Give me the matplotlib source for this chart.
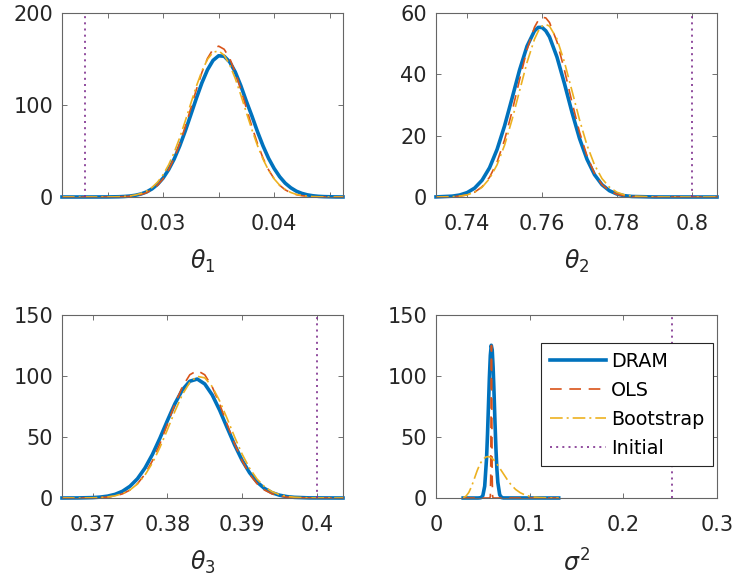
import matplotlib
matplotlib.use("Agg")
import matplotlib.pyplot as plt

# --- densities (x grid + DRAM / OLS / Bootstrap) ---
T1_X = [0.0209, 0.0230, 0.0250, 0.0260, 0.0265, 0.0270, 0.0275, 0.0280, 0.0285, 0.0290,
        0.0295, 0.0300, 0.0305, 0.0310, 0.0315, 0.0320, 0.0325, 0.0330, 0.0335, 0.0340,
        0.0345, 0.0350, 0.0355, 0.0360, 0.0365, 0.0370, 0.0375, 0.0380, 0.0385, 0.0390,
        0.0395, 0.0400, 0.0405, 0.0410, 0.0415, 0.0420, 0.0425, 0.0430, 0.0435, 0.0440,
        0.0445, 0.0455, 0.0462]
T1_DRAM = [0, 0, 0.07, 0.28, 0.55, 1.03, 1.85, 3.23, 5.42, 8.78,
           13.7, 20.5, 29.7, 41.3, 55.5, 71.8, 89.5, 107.4, 124.2, 138.3,
           148.5, 153.5, 153.0, 146.8, 135.8, 121.0, 104.0, 88.0, 71.0, 55.5,
           42.0, 31.0, 22.0, 15.0, 10.0, 6.3, 3.9, 2.3, 1.3, 0.7,
           0.4, 0.1, 0.05]
T1_OLS = [0, 0, 0.03, 0.17, 0.36, 0.73, 1.40, 2.59, 4.58, 7.79,
          12.7, 19.8, 29.5, 42.3, 58.1, 76.5, 96.6, 116.9, 135.5, 150.7,
          160.6, 164.0, 160.6, 150.7, 135.5, 116.9, 96.6, 76.5, 58.1, 42.3,
          29.5, 19.8, 12.7, 7.79, 4.58, 2.59, 1.40, 0.73, 0.36, 0.17,
          0.08, 0.01, 0]
T1_BOOT = [0, 0, 0.07, 0.31, 0.61, 1.17, 2.14, 3.75, 6.35, 10.3,
           16.1, 24.2, 34.9, 48.4, 64.5, 82.7, 101.8, 120.5, 137.0, 149.7,
           157.3, 158.8, 154.1, 143.7, 128.8, 110.9, 91.8, 73.1, 55.9, 41.1,
           29.0, 19.7, 12.8, 8.1, 4.9, 2.8, 1.56, 0.84, 0.43, 0.21,
           0.10, 0.02, 0]

T2_X = [0.7317, 0.736, 0.738, 0.740, 0.742, 0.744, 0.746, 0.748, 0.750, 0.752,
        0.754, 0.756, 0.758, 0.759, 0.760, 0.761, 0.762, 0.764, 0.766, 0.768,
        0.770, 0.772, 0.774, 0.776, 0.778, 0.780, 0.782, 0.784, 0.790, 0.800,
        0.8067]
T2_DRAM = [0.03, 0.27, 0.64, 1.42, 2.89, 5.46, 9.55, 15.5, 23.2, 32.2,
           41.4, 49.2, 54.2, 55.3, 55.3, 54.2, 52.2, 45.6, 36.9, 27.6,
           19.1, 12.3, 7.29, 4.01, 2.04, 0.96, 0.42, 0.17, 0.01, 0,
           0]
T2_OLS = [0, 0.10, 0.27, 0.68, 1.57, 3.32, 6.43, 11.4, 18.6, 27.9,
          38.2, 48.1, 55.4, 57.6, 58.6, 58.4, 56.9, 50.6, 41.3, 30.9,
          21.2, 13.4, 7.71, 4.08, 1.98, 0.88, 0.36, 0.14, 0, 0,
          0]
T2_BOOT = [0.01, 0.11, 0.29, 0.70, 1.55, 3.18, 6.01, 10.5, 16.9, 25.2,
           34.6, 43.9, 51.5, 54.1, 55.7, 56.3, 55.7, 51.5, 43.9, 34.6,
           25.2, 16.9, 10.5, 6.01, 3.18, 1.55, 0.70, 0.29, 0.01, 0,
           0]

T3_X = [0.3659, 0.368, 0.370, 0.371, 0.372, 0.373, 0.374, 0.375, 0.376, 0.377,
        0.378, 0.379, 0.380, 0.381, 0.382, 0.383, 0.384, 0.385, 0.386, 0.387,
        0.388, 0.389, 0.390, 0.391, 0.392, 0.393, 0.394, 0.395, 0.396, 0.397,
        0.399, 0.4035]
T3_DRAM = [0, 0.06, 0.33, 0.73, 1.52, 2.99, 5.53, 9.64, 15.8, 24.5,
           35.7, 49.0, 63.4, 77.2, 88.6, 95.7, 97.5, 93.5, 84.5, 71.9,
           57.6, 43.5, 30.9, 20.7, 13.1, 7.78, 4.35, 2.30, 1.14, 0.53,
           0.10, 0]
T3_OLS = [0, 0.02, 0.13, 0.32, 0.75, 1.65, 3.40, 6.51, 11.7, 19.5,
          30.5, 44.4, 60.4, 76.8, 91.1, 101.0, 104.5, 101.0, 91.1, 76.8,
          60.4, 44.4, 30.5, 19.5, 11.7, 6.51, 3.40, 1.65, 0.75, 0.32,
          0.05, 0]
T3_BOOT = [0, 0.02, 0.16, 0.39, 0.86, 1.81, 3.57, 6.61, 11.5, 18.8,
           28.7, 41.4, 55.9, 71.0, 84.7, 94.8, 99.7, 98.5, 91.3, 79.5,
           65.1, 50.0, 36.0, 24.4, 15.5, 9.29, 5.21, 2.74, 1.36, 0.63,
           0.11, 0]

S2_X = [0.029, 0.045, 0.048, 0.050, 0.052, 0.054, 0.055, 0.056, 0.057, 0.058,
        0.059, 0.060, 0.061, 0.062, 0.063, 0.064, 0.065, 0.066, 0.068, 0.070,
        0.072, 0.131]
S2_DRAM = [0, 0, 0.25, 1.9, 9.7, 32.9, 52.4, 75.6, 98.7, 116.8,
           125.2, 121.5, 106.8, 85.1, 61.4, 40.2, 23.8, 12.8, 2.7, 0.39,
           0.04, 0]
S2_OLS_X = [0.029, 0.0575, 0.0580, 0.0584, 0.0588, 0.0592, 0.0596, 0.0600, 0.0604, 0.0610, 0.131]
S2_OLS = [0, 0, 1.5, 17, 76, 125, 76, 17, 1.5, 0, 0]
S2_BOOT_X = [0.029, 0.032, 0.035, 0.038, 0.041, 0.044, 0.047, 0.050, 0.053, 0.056,
             0.059, 0.062, 0.065, 0.068, 0.071, 0.074, 0.077, 0.080, 0.085, 0.090,
             0.095, 0.100, 0.105, 0.110, 0.120, 0.131]
S2_BOOT = [0.3, 1.5, 4.5, 9.5, 16, 22.5, 28, 31.5, 33.5, 34,
           33, 31, 28, 24.5, 21, 17.5, 14, 11, 7, 4.3,
           2.5, 1.4, 0.7, 0.35, 0.1, 0]

INITIAL = [0.023, 0.8, 0.4, 0.252]
LABELS = [r'$\theta_1$', r'$\theta_2$', r'$\theta_3$', r'$\sigma^2$']
SERIES = ['DRAM', 'OLS', 'Bootstrap', 'Initial']

plt.rcParams['font.family'] = ['DejaVu Sans']
plt.rcParams['mathtext.fontset'] = 'dejavusans'

C_DRAM, C_OLS, C_BOOT, C_INIT = '#0072BD', '#D95319', '#EDB120', '#7E2F8E'
TXT = '#262626'

fig = plt.figure(figsize=(7.33, 5.84), dpi=100)
W, H = 733.0, 584.0
boxes = [(62, 13, 343, 197), (436, 13, 717, 197), (62, 315, 343, 498), (436, 315, 717, 498)]
axes = [fig.add_axes([l / W, 1 - b / H, (r - l) / W, (b - t) / H]) for l, t, r, b in boxes]

panels = [
    ((T1_X, T1_DRAM), (T1_X, T1_OLS), (T1_X, T1_BOOT)),
    ((T2_X, T2_DRAM), (T2_X, T2_OLS), (T2_X, T2_BOOT)),
    ((T3_X, T3_DRAM), (T3_X, T3_OLS), (T3_X, T3_BOOT)),
    ((S2_X, S2_DRAM), (S2_OLS_X, S2_OLS), (S2_BOOT_X, S2_BOOT)),
]
xlims = [(0.0209, 0.0462), (0.7317, 0.8067), (0.3659, 0.4035), (0, 0.3)]
ylims = [(0, 200), (0, 60), (0, 150), (0, 150)]
xticks = [[0.025, 0.03, 0.035, 0.04, 0.045], [0.74, 0.76, 0.78, 0.8],
          [0.37, 0.38, 0.39, 0.4], [0, 0.1, 0.2, 0.3]]
xticklabels = [['', '0.03', '', '0.04', ''], ['0.74', '0.76', '0.78', '0.8'],
               ['0.37', '0.38', '0.39', '0.4'], ['0', '0.1', '0.2', '0.3']]
yticks = [[0, 100, 200], [0, 20, 40, 60], [0, 50, 100, 150], [0, 50, 100, 150]]

for i, ax in enumerate(axes):
    dram, ols, boot = panels[i]
    h1, = ax.plot(*dram, color=C_DRAM, lw=2.6, clip_on=False)
    h2, = ax.plot(*ols, color=C_OLS, lw=1.2, linestyle=(0, (7, 4.6)), clip_on=False)
    h3, = ax.plot(*boot, color=C_BOOT, lw=1.2, linestyle=(0, (7.6, 2.4, 1.2, 2.4)), clip_on=False)
    h4 = ax.axvline(INITIAL[i], color=C_INIT, lw=1.2, linestyle=(0, (1.2, 2.5)))
    ax.set_xlim(*xlims[i])
    ax.set_ylim(*ylims[i])
    ax.set_xticks(xticks[i])
    ax.set_xticklabels(xticklabels[i])
    ax.set_yticks(yticks[i])
    ax.set_yticklabels([str(v) for v in yticks[i]])
    ax.tick_params(direction='in', top=True, right=True, length=3.5, width=0.6,
                   color='0.35', labelcolor=TXT, labelsize=15)
    ax.tick_params(axis='x', pad=12)
    ax.tick_params(axis='y', pad=6.5)
    for s in ax.spines.values():
        s.set_color('0.4')
        s.set_linewidth(0.8)
    ax.set_xlabel(LABELS[i], fontsize=17, color=TXT, labelpad=10.5)

leg = axes[3].legend([h1, h2, h3, h4], SERIES, loc='upper right',
                     bbox_to_anchor=(0.986, 0.847), borderaxespad=0, fontsize=13.8,
                     handlelength=2.95, handletextpad=0.26, labelspacing=0.52,
                     borderpad=0.45, fancybox=False, framealpha=1, edgecolor=TXT)
leg.get_frame().set_linewidth(0.8)

fig.savefig('out.png', dpi=100)
